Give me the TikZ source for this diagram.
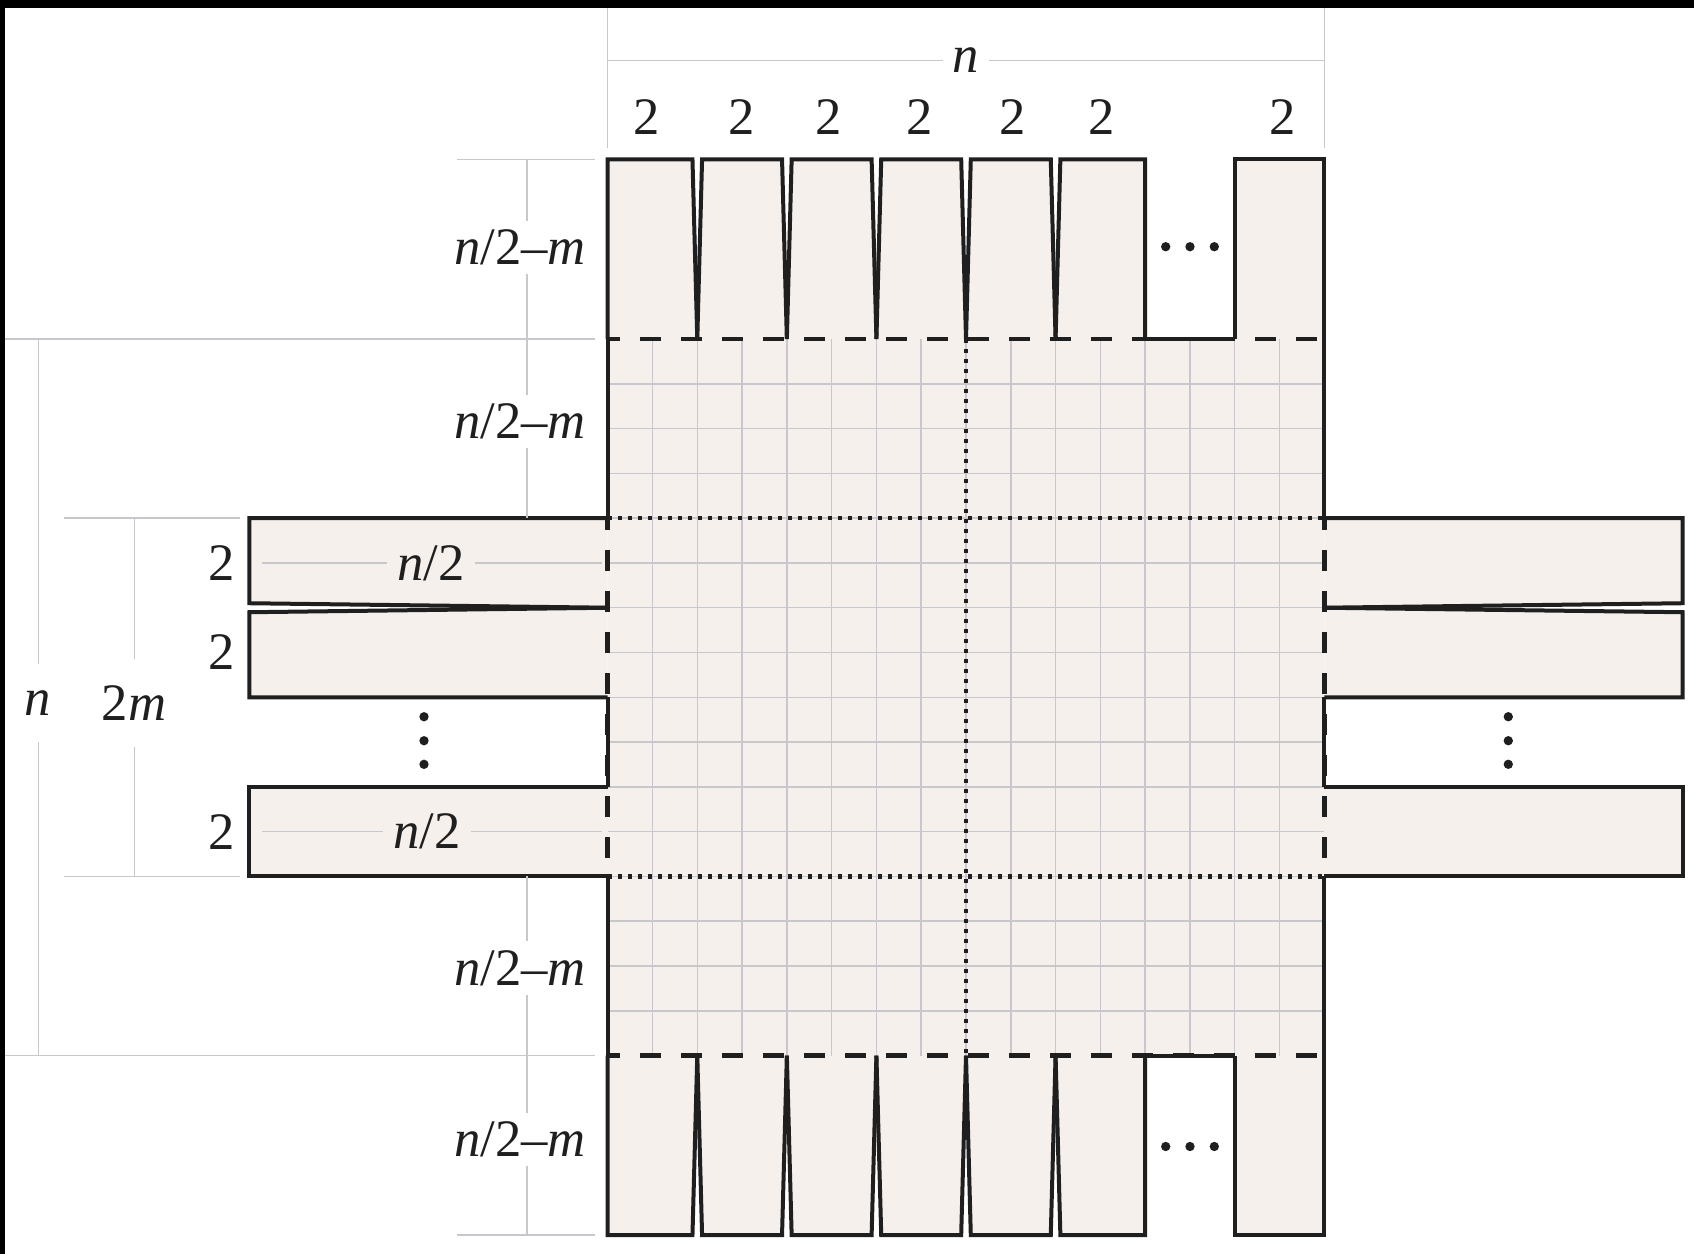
\documentclass[tikz,border=0pt]{standalone}
\usepackage{fontspec}
\setmainfont{Liberation Serif}
\definecolor{paper}{RGB}{245,240,236}
\definecolor{dim}{RGB}{200,200,204}
\begin{document}
\begin{tikzpicture}[x=0.3pt,y=-0.3pt,
  outline/.style={line width=1.2pt, line join=miter, draw=black!88},
  fold/.style={line width=1.35pt, draw=black!88, dash pattern=on 6.3pt off 6pt, dash phase=2.6pt},
  centre/.style={line width=1.3pt, draw=black!88, dash pattern=on 1.3pt off 1.7pt},
  dimline/.style={draw=dim, line width=0.45pt},
  lab/.style={font=\fontsize{15.8}{18}\selectfont, inner sep=0pt, text=black!88},
  dot/.style={fill=black!88}]
\def\XO{607.7}\def\XI{1324.3}\def\S{44.7875}
\def\YO{339}\def\YI{1055.6}
\def\XL{249.4}\def\XR{1682.6}
\useasboundingbox (0,0) rectangle (1694,1254);
% frame of the scan
\fill[black] (0,0) rectangle (1694,8);
\fill[black] (0,0) rectangle (5,1254);
% central square
\fill[paper] (\XO,\YO) rectangle (\XI,\YI);
% top and bottom blocks (fill)
\foreach \k/\li/\ri in {0/0/4.8,1/4.8/4.8,2/4.8/4.8,3/4.8/4.8,4/4.8/4.8,5/4.8/0,7/0/0}{
  \pgfmathsetmacro\xl{\XO+2*\k*\S}
  \pgfmathsetmacro\xr{\XO+(2*\k+2)*\S}
  \fill[paper] (\xl,\YO) -- ({\xl+\li},159.3) -- ({\xr-\ri},159.3) -- (\xr,\YO) -- cycle;
  \fill[paper] (\xl,\YI) -- ({\xl+\li},1235) -- ({\xr-\ri},1235) -- (\xr,\YI) -- cycle;
}
% side strips (fill)
\pgfmathsetmacro\yA{\YO+4*\S}
\pgfmathsetmacro\yB{\YO+6*\S}
\pgfmathsetmacro\yC{\YO+8*\S}
\pgfmathsetmacro\yD{\YO+10*\S}
\pgfmathsetmacro\yE{\YO+12*\S}
\pgfmathsetmacro\yAB{\YO+5*\S}
\pgfmathsetmacro\yDE{\YO+11*\S}
\foreach \xf in {\XL,\XR}{
  \ifdim\xf pt<1000pt \def\xg{\XO}\else\def\xg{\XI}\fi
  \fill[paper] (\xg,\yA) -- (\xf,\yA) -- (\xf,{\yB-4.5}) -- (\xg,\yB) -- cycle;
  \fill[paper] (\xg,\yB) -- (\xf,{\yB+4.5}) -- (\xf,\yC) -- (\xg,\yC) -- cycle;
  \fill[paper] (\xg,\yD) -- (\xf,\yD) -- (\xf,\yE) -- (\xg,\yE) -- cycle;
}
% grid
\foreach \i in {1,...,15}{
  \draw[dimline] ({\XO+\i*\S},\YO) -- ({\XO+\i*\S},\YI);
  \draw[dimline] (\XO,{\YO+\i*\S}) -- (\XI,{\YO+\i*\S});
}
% centre lines of strips with labels
\draw[dimline] (261.7,\yAB) -- (601.7,\yAB);
\draw[dimline] (261.7,\yDE) -- (601.7,\yDE);
\node[lab, fill=paper, inner xsep=3pt] (halfA) at (431,\yAB) {\textit{n}/2};
\node[lab, fill=paper, inner xsep=3pt] (halfC) at (427,\yDE) {\textit{n}/2};
% dotted middle lines
\draw[centre] (\XO,\yA) -- (\XI,\yA);
\draw[centre] (\XO,\yE) -- (\XI,\yE);
\draw[centre] ({\XO+8*\S},\YO) -- ({\XO+8*\S},\YI);
% outlines of blocks
\foreach \k/\li/\ri in {0/0/4.8,1/4.8/4.8,2/4.8/4.8,3/4.8/4.8,4/4.8/4.8,5/4.8/0,7/0/0}{
  \pgfmathsetmacro\xl{\XO+2*\k*\S}
  \pgfmathsetmacro\xr{\XO+(2*\k+2)*\S}
  \draw[outline] (\xl,\YO) -- ({\xl+\li},159.3) -- ({\xr-\ri},159.3) -- (\xr,\YO);
  \draw[outline] (\xl,\YI) -- ({\xl+\li},1235) -- ({\xr-\ri},1235) -- (\xr,\YI);
}
\foreach \xf in {\XL,\XR}{
  \ifdim\xf pt<1000pt \def\xg{\XO}\else\def\xg{\XI}\fi
  \draw[outline] (\xg,\yA) -- (\xf,\yA) -- (\xf,{\yB-4.5}) -- (\xg,\yB);
  \draw[outline] (\xg,\yB) -- (\xf,{\yB+4.5}) -- (\xf,\yC) -- (\xg,\yC);
  \draw[outline] (\xg,\yD) -- (\xf,\yD) -- (\xf,\yE) -- (\xg,\yE);
}
% borders of the square
\draw[fold] (\XO,\YO) -- (\XI,\YO);
\draw[fold] (\XO,\YI) -- (\XI,\YI);
\draw[outline] ({\XO+12*\S},\YO) -- ({\XO+14*\S},\YO);
\draw[outline] ({\XO+12*\S},\YI) -- ({\XO+14*\S},\YI);
\foreach \xg in {\XO,\XI}{
  \draw[outline] (\xg,\YO) -- (\xg,\yA);
  \draw[fold] (\xg,\yA) -- (\xg,\yE);
  \draw[outline] (\xg,\yC) -- (\xg,\yD);
  \draw[outline] (\xg,\yE) -- (\xg,\YI);
}
% dimension lines, top
\draw[dimline] (\XO,8) -- (\XO,148);
\draw[dimline] (\XI,8) -- (\XI,148);
\draw[dimline] (\XO,60.7) -- (\XI,60.7);
\node[lab, fill=white, inner xsep=3pt, anchor=base] (ntop) at (966,72) {\textit{n}};
\foreach \k/\xc in {0/646.7,1/742,2/829,3/920,4/1013,5/1102,7/1282.7}{
  \node[lab] (two\k) at (\xc,117.5) {2};
}
% dimension lines, left
\draw[dimline] (457,159.3) -- (595,159.3);
\draw[dimline] (5,\YO) -- (595,\YO);
\draw[dimline] (64,\yA) -- (240,\yA);
\draw[dimline] (64,\yE) -- (240,\yE);
\draw[dimline] (5,\YI) -- (595,\YI);
\draw[dimline] (457,1235) -- (595,1235);
\draw[dimline] (527,159.3) -- (527,\yA);
\draw[dimline] (527,\yE) -- (527,1235);
\draw[dimline] (38.4,\YO) -- (38.4,\YI);
\draw[dimline] (134.4,\yA) -- (134.4,\yE);
\foreach \n/\yc in {a/255.7,b/429.7,c/976,d/1147.5}{
  \node[lab, fill=white, inner ysep=2.7pt, anchor=base] (nm\n) at (520,{\yc+9}) {\textit{n}/2\textendash\textit{m}};
}
\node[lab, fill=white, inner ysep=8pt] (nleft) at (37.6,703) {\textit{n}};
\node[lab, fill=white, inner ysep=8pt] (mleft) at (134,703) {2\textit{m}};
\node[lab] (sA) at (221.5,\yAB) {2};
\node[lab] (sB) at (221.5,{\YO+7*\S}) {2};
\node[lab] (sC) at (221.5,\yDE) {2};
% ellipses
\foreach \xd in {1165.7,1190,1214.3}{
  \fill[dot] (\xd,246.7) circle[radius=1.4pt];
  \fill[dot] (\xd,1146.5) circle[radius=1.4pt];
}
\foreach \yd in {716.7,740.7,764.3}{
  \fill[dot] (424,\yd) circle[radius=1.4pt];
  \fill[dot] (1508.3,\yd) circle[radius=1.4pt];
}
\end{tikzpicture}
\end{document}
